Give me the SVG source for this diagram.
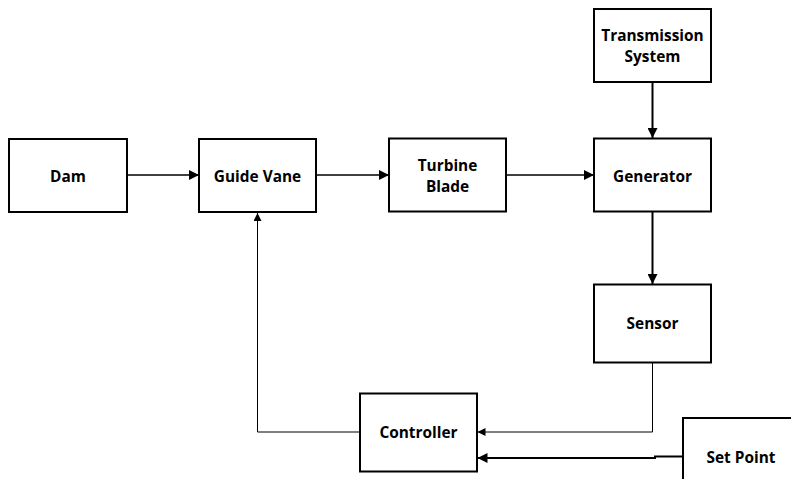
<svg xmlns="http://www.w3.org/2000/svg" width="791" height="479" viewBox="0 0 791 479">
<style>
.box{fill:#fff;stroke:#000;stroke-width:2}
.t{font-family:"Open Sans","Liberation Sans",sans-serif;font-weight:bold;font-size:15.4px;fill:#000;text-anchor:middle;dominant-baseline:central}
.c{fill:none;stroke:#000}
</style>
<defs>
<marker id="ah" viewBox="0 0 10 10" refX="10" refY="5" markerWidth="10" markerHeight="10" markerUnits="userSpaceOnUse" orient="auto"><path d="M0,0L10,5L0,10z" fill="#000"/></marker>
<marker id="as" viewBox="0 0 10 10" refX="10" refY="5" markerWidth="8" markerHeight="8" markerUnits="userSpaceOnUse" orient="auto"><path d="M0,0L10,5L0,10z" fill="#000"/></marker>
</defs>
<rect width="791" height="479" fill="#fff"/>
<g id="connectors">
<path class="c" stroke-width="1.5" d="M127,175H199" marker-end="url(#ah)"/>
<path class="c" stroke-width="1.5" d="M316,175H389" marker-end="url(#ah)"/>
<path class="c" stroke-width="1.5" d="M506,175H594" marker-end="url(#ah)"/>
<path class="c" stroke-width="2" d="M652.5,82V138" marker-end="url(#ah)"/>
<path class="c" stroke-width="2" d="M652.5,212V284" marker-end="url(#ah)"/>
<path class="c" stroke-width="1" d="M652.5,362V432H477.5" marker-end="url(#as)"/>
<path class="c" stroke-width="1" stroke="#444" d="M360,432H257.5V213" marker-end="url(#as)"/>
<path class="c" stroke-width="2" d="M683,456.5H655V458H477.5" marker-end="url(#ah)"/>
</g>
<g id="dam"><rect class="box" x="9" y="139" width="118" height="73"/><text class="t" x="68" y="176">Dam</text></g>
<g id="guide-vane"><rect class="box" x="199" y="139" width="117" height="73"/><text class="t" x="257.5" y="176">Guide Vane</text></g>
<g id="turbine-blade"><rect class="box" x="389" y="138.5" width="117" height="73"/><text class="t" x="447.5" y="165">Turbine</text><text class="t" x="447.5" y="186">Blade</text></g>
<g id="generator"><rect class="box" x="594" y="138.5" width="117" height="73"/><text class="t" x="652.5" y="176">Generator</text></g>
<g id="transmission-system"><rect class="box" x="594" y="9" width="117" height="73"/><text class="t" x="652.5" y="35">Transmission</text><text class="t" x="652.5" y="56">System</text></g>
<g id="sensor"><rect class="box" x="594" y="284.5" width="117" height="78"/><text class="t" x="652.5" y="323">Sensor</text></g>
<g id="controller"><rect class="box" x="360" y="393.5" width="117" height="78"/><text class="t" x="418.5" y="432">Controller</text></g>
<g id="set-point"><rect class="box" x="683" y="418" width="130" height="80"/><text class="t" x="741" y="457">Set Point</text></g>
</svg>
